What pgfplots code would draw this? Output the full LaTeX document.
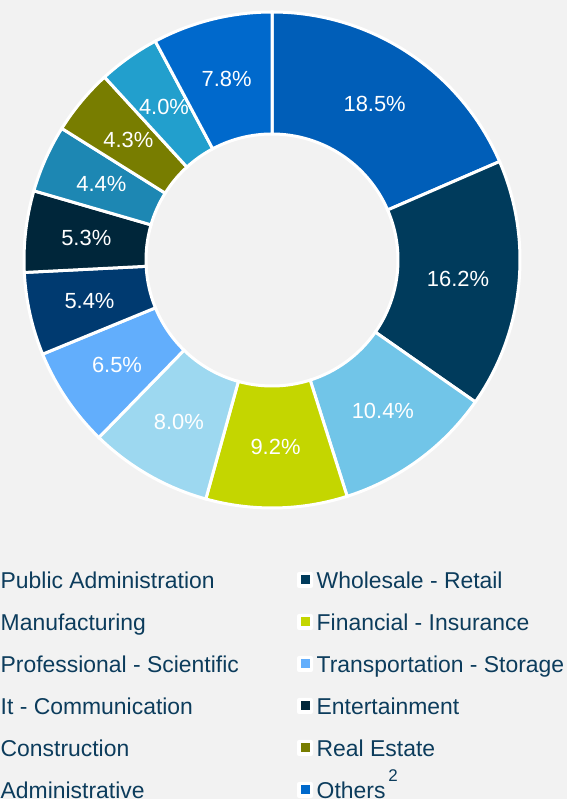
\documentclass[border=0pt]{standalone}
\usepackage{pgfplots}
\pgfplotsset{compat=1.18}
\usepackage{pgfplotstable}
\usepackage{fontspec}
\setmainfont{Liberation Sans}

\definecolor{bg}{HTML}{F2F2F2}
\definecolor{legtext}{HTML}{0C3C5C}
\definecolor{c1}{HTML}{005EB8}
\definecolor{c2}{HTML}{003B5C}
\definecolor{c3}{HTML}{71C5E8}
\definecolor{c4}{HTML}{C4D600}
\definecolor{c5}{HTML}{9DD8F0}
\definecolor{c6}{HTML}{62AEFC}
\definecolor{c7}{HTML}{003A70}
\definecolor{c8}{HTML}{00263A}
\definecolor{c9}{HTML}{1D87B3}
\definecolor{c10}{HTML}{787D00}
\definecolor{c11}{HTML}{229FCD}
\definecolor{c12}{HTML}{0069CC}

% sector shares in %, clockwise from 12 o'clock
\pgfplotstableread[col sep=comma]{
label,value,color
Public Administration,18.5,c1
Wholesale - Retail,16.2,c2
Manufacturing,10.4,c3
Financial - Insurance,9.2,c4
Professional - Scientific,8.0,c5
Transportation - Storage,6.5,c6
It - Communication,5.4,c7
Entertainment,5.3,c8
Construction,4.4,c9
Real Estate,4.3,c10
Administrative,4.0,c11
Others,7.8,c12
}\sectors

\begin{document}
\begin{tikzpicture}
\useasboundingbox (0,0) rectangle (567bp,799bp);
\fill[bg] (0,0) rectangle (567bp,799bp);
\begin{axis}[
    at={(0,0)}, anchor=south west,
    x=1bp, y=1bp,
    xmin=0, xmax=567, ymin=0, ymax=799,
    scale only axis,
    hide axis,
    clip=false,
]
\def\cum{0}
\pgfplotsforeachungrouped \i in {0,...,11}{%
  \pgfplotstablegetelem{\i}{value}\of\sectors \let\secv\pgfplotsretval
  \pgfplotstablegetelem{\i}{color}\of\sectors \let\secc\pgfplotsretval
  \pgfmathsetmacro\sa{90-3.6*\cum}%
  \pgfmathsetmacro\sb{90-3.6*(\cum+\secv)}%
  \pgfmathsetmacro\sm{(\sa+\sb)/2}%
  \pgfmathsetmacro\cum{\cum+\secv}%
  \edef\temp{%
    \noexpand\fill[fill=\secc, draw=white, line width=3bp, shift={(axis cs:272,539)}]
      (\sa:248bp) arc[start angle=\sa, end angle=\sb, radius=248bp]
      -- (\sb:126bp) arc[start angle=\sb, end angle=\sa, radius=126bp] -- cycle;
    \noexpand\node[text=white, font=\noexpand\fontsize{22}{26}\noexpand\selectfont, inner sep=0pt]
      at ([shift={(\sm:187bp)}]axis cs:272,539)
      {\noexpand\pgfmathprintnumber[fixed, fixed zerofill, precision=1, assume math mode=true]{\secv}\noexpand\%};
  }%
  \temp
}
\end{axis}

% legend
\begin{scope}[font=\fontsize{23}{26}\selectfont, text=legtext]
\foreach \name [count=\k from 0] in {Public Administration, Manufacturing, Professional - Scientific, It - Communication, Construction, Administrative}{
  \node[anchor=base west, inner sep=0pt] at (0.5bp, {(211-42*\k)*1bp}) {\name};
}
\foreach \name/\col [count=\k from 0] in {Wholesale - Retail/c2, Financial - Insurance/c4, Transportation - Storage/c6, Entertainment/c8, Real Estate/c10}{
  \fill[white, rounded corners=2bp] (297bp, {(211-42*\k)*1bp}) rectangle ++(16bp,16bp);
  \fill[\col] (300.5bp, {(214.5-42*\k)*1bp}) rectangle ++(9bp,9bp);
  \node[anchor=base west, inner sep=0pt] at (316.5bp, {(211-42*\k)*1bp}) {\name};
}
\fill[white, rounded corners=2bp] (297bp, 1bp) rectangle ++(16bp,16bp);
\fill[c12] (300.5bp, 4.5bp) rectangle ++(9bp,9bp);
\node[anchor=base west, inner sep=0pt] at (316.5bp, 1bp) {Others\kern3bp\raisebox{17bp}{\fontsize{17}{17}\selectfont 2}};
\end{scope}
\end{tikzpicture}
\end{document}
